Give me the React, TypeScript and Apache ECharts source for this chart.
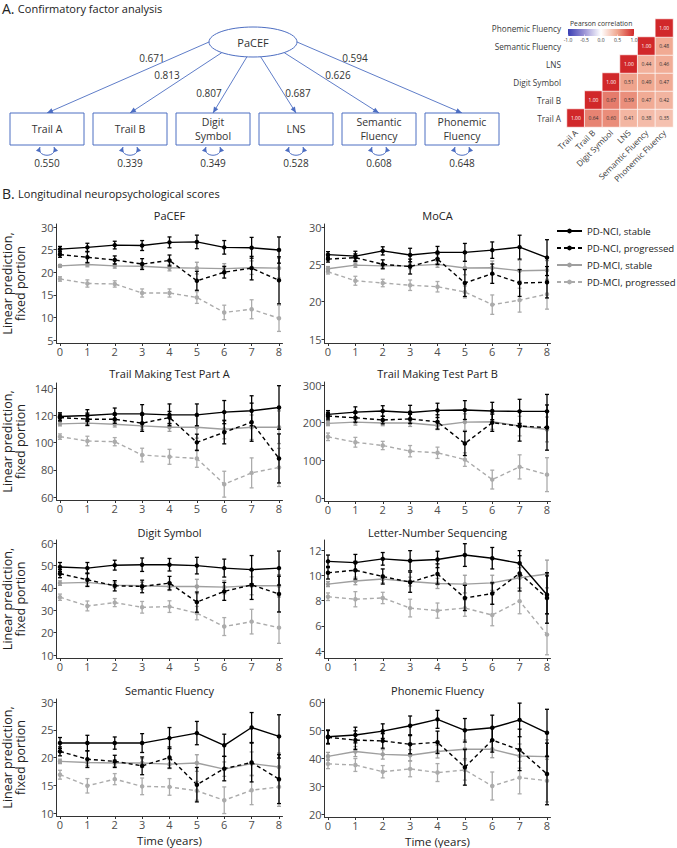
import React, { useEffect, useRef } from "react";
import * as echarts from "echarts";

// ---------------- DATA ----------------
const years = [0, 1, 2, 3, 4, 5, 6, 7, 8];
const groups = ["PD-NCI, stable", "PD-NCI, progressed", "PD-MCI, stable", "PD-MCI, progressed"];

// PaCEF
const pacefNciStable = [25.1, 25.5, 26.0, 25.9, 26.6, 26.7, 25.5, 25.4, 24.9];
const pacefNciStableErr = [0.6, 0.9, 0.85, 1.1, 1.2, 1.5, 1.5, 2.3, 2.9];
const pacefNciProg = [23.9, 23.3, 22.7, 21.8, 22.6, 18.1, 20.0, 20.9, 18.2];
const pacefNciProgErr = [0.6, 1.2, 0.9, 1.2, 1.2, 2.1, 1.3, 2.6, 5.2];
const pacefMciStable = [21.4, 21.7, 21.4, 21.3, 21.0, 20.9, 20.8, 21.0, 20.9];
const pacefMciStableErr = [0.3, 0.5, 0.5, 0.6, 0.7, 1.3, 1.1, 1.5, 2.2];
const pacefMciProg = [18.5, 17.5, 17.4, 15.4, 15.4, 14.4, 11.1, 11.8, 9.8];
const pacefMciProgErr = [0.5, 0.8, 0.7, 0.9, 0.9, 1.3, 1.6, 2.1, 2.9];

// MoCA
const mocaNciStable = [26.3, 26.1, 26.8, 26.25, 26.6, 26.6, 26.9, 27.3, 25.9];
const mocaNciStableErr = [0.4, 0.65, 0.55, 0.9, 0.8, 1.2, 1.1, 1.6, 2.4];
const mocaNciProg = [25.7, 25.9, 25.0, 24.7, 25.7, 22.5, 23.75, 22.5, 22.6];
const mocaNciProgErr = [0.4, 0.5, 0.6, 1.0, 0.7, 1.8, 1.3, 1.8, 2.1];
const mocaMciStable = [24.4, 24.9, 24.8, 24.8, 25.0, 24.5, 24.55, 24.15, 24.2];
const mocaMciStableErr = [0.3, 0.3, 0.3, 0.4, 0.4, 0.9, 0.9, 1.4, 1.3];
const mocaMciProg = [24.0, 22.8, 22.5, 22.2, 22.0, 21.3, 19.6, 20.2, 21.0];
const mocaMciProgErr = [0.3, 0.6, 0.5, 0.7, 0.7, 0.8, 1.3, 1.6, 2.0];

// Trail Making Test Part A
const trailANciStable = [119.1, 119.8, 121.0, 121.0, 120.3, 120.3, 122.3, 123.3, 125.7];
const trailANciStableErr = [2.7, 4.3, 4.3, 6.8, 8, 8, 8.5, 11, 16];
const trailANciProg = [118.3, 117.1, 117.1, 114.2, 118.3, 100.1, 107.5, 114.9, 88.3];
const trailANciProgErr = [2.5, 4.5, 3, 6, 4.5, 6, 8.5, 14, 18];
const trailAMciStable = [113.7, 114.2, 113.4, 112.2, 111.2, 111.2, 109.7, 111.2, 111.2];
const trailAMciStableErr = [1.5, 2, 2, 2.5, 3, 8, 7, 9, 12];
const trailAMciProg = [104.3, 101.1, 100.6, 90.8, 89.5, 88.3, 69.4, 77.7, 81.7];
const trailAMciProgErr = [2, 3.5, 3, 5, 5.5, 6.5, 9.5, 11, 14];

// Trail Making Test Part B
const trailBNciStable = [222, 228, 231, 227, 232.6, 233.5, 231, 230, 230];
const trailBNciStableErr = [10, 14, 14, 19, 19, 25, 23, 32, 45];
const trailBNciProg = [217.5, 213, 207, 210, 202, 144.7, 200, 191, 187];
const trailBNciProgErr = [10, 12, 10, 12, 19, 32, 23, 40, 60];
const trailBMciStable = [198, 201.5, 199, 199, 192.6, 201.5, 202.4, 191, 182];
const trailBMciStableErr = [6, 8, 7, 9, 11, 22, 20, 26, 33];
const trailBMciProg = [162.5, 148, 139.4, 124.3, 120, 102, 48.9, 82.6, 62];
const trailBMciProgErr = [10, 13, 11, 15, 15, 18, 25, 32, 45];

// Digit Symbol
const digitNciStable = [49.3, 48.8, 50.1, 50.3, 50.3, 49.9, 48.8, 48.1, 48.8];
const digitNciStableErr = [2, 2.5, 2.2, 3, 2.8, 3.7, 4, 6.3, 7.6];
const digitNciProg = [46.3, 43.6, 40.9, 40.6, 42.1, 33.6, 38.4, 41.3, 37.2];
const digitNciProgErr = [1.8, 3, 2.3, 2.8, 3, 4.5, 4, 6.5, 8];
const digitMciStable = [42.1, 42.4, 41.2, 40.9, 40.6, 40.6, 40.3, 40.9, 40.9];
const digitMciStableErr = [1, 1.5, 1.3, 1.6, 1.8, 3.2, 3, 4, 5];
const digitMciProg = [35.8, 31.9, 33.4, 31.3, 31.6, 28.7, 22.7, 24.9, 22.2];
const digitMciProgErr = [1.4, 2.2, 1.8, 2.6, 2.6, 3, 4, 5.5, 7];

// Letter-Number Sequencing
const lnsNciStable = [11.1, 11.0, 11.3, 11.15, 11.25, 11.6, 11.35, 10.95, 8.45];
const lnsNciStableErr = [0.5, 0.65, 0.5, 0.8, 0.65, 0.9, 0.85, 1.0, 1.5];
const lnsNciProg = [10.2, 10.4, 9.9, 9.45, 10.1, 8.2, 8.55, 10.15, 8.2];
const lnsNciProgErr = [0.5, 0.7, 0.6, 0.8, 0.8, 1.0, 0.85, 1.4, 2.0];
const lnsMciStable = [9.3, 9.55, 9.7, 9.5, 9.35, 9.3, 9.4, 9.8, 10.1];
const lnsMciStableErr = [0.2, 0.3, 0.3, 0.35, 0.4, 0.7, 0.6, 0.8, 1.1];
const lnsMciProg = [8.3, 8.1, 8.2, 7.4, 7.2, 7.4, 6.85, 7.95, 5.3];
const lnsMciProgErr = [0.3, 0.6, 0.45, 0.7, 0.6, 0.65, 0.85, 1.0, 1.6];

// Semantic Fluency
const semNciStable = [22.6, 22.6, 22.6, 22.6, 23.5, 24.4, 22.2, 25.4, 23.8];
const semNciStableErr = [1.0, 1.4, 1.1, 1.7, 1.9, 2.1, 2.0, 2.7, 3.9];
const semNciProg = [21.1, 19.7, 19.3, 18.5, 20.0, 15.1, 18.0, 19.1, 16.1];
const semNciProgErr = [0.8, 1.5, 1.1, 1.6, 1.9, 3.1, 2.2, 3.5, 4.4];
const semMciStable = [19.3, 19.1, 19.0, 19.0, 18.8, 19.0, 17.9, 18.9, 18.3];
const semMciStableErr = [0.4, 0.6, 0.6, 0.8, 0.8, 1.5, 1.3, 2.1, 2.5];
const semMciProg = [16.9, 14.9, 16.1, 14.8, 14.7, 14.0, 12.3, 14.1, 14.7];
const semMciProgErr = [0.8, 1.3, 1.0, 1.5, 1.5, 1.7, 2.4, 2.6, 3.5];

// Phonemic Fluency
const phoNciStable = [47.6, 48.2, 49.6, 51.5, 53.8, 49.9, 50.8, 53.6, 49.0];
const phoNciStableErr = [2.4, 2.8, 2.6, 3.5, 3.2, 4.2, 4.5, 6, 8.4];
const phoNciProg = [47.4, 46.4, 46.1, 44.9, 45.6, 36.7, 46.4, 42.9, 34.3];
const phoNciProgErr = [2.4, 3.3, 2.6, 3.4, 4, 6.4, 4.3, 7.4, 11];
const phoMciStable = [40.6, 42.3, 41.3, 41.0, 42.3, 43.1, 43.1, 40.7, 40.5];
const phoMciStableErr = [1.4, 1.8, 1.7, 2, 2.3, 3.3, 3, 4.3, 6];
const phoMciProg = [37.9, 37.5, 35.1, 36.1, 34.8, 35.7, 30.0, 33.0, 31.9];
const phoMciProgErr = [1.7, 2.3, 2.2, 2.8, 3.2, 3.6, 5, 5.8, 7.6];

const panelTitles = [
  "PaCEF", "MoCA", "Trail Making Test Part A", "Trail Making Test Part B",
  "Digit Symbol", "Letter-Number Sequencing", "Semantic Fluency", "Phonemic Fluency",
];
const panelTicks = [
  [5, 10, 15, 20, 25, 30], [15, 20, 25, 30], [60, 80, 100, 120, 140], [0, 100, 200, 300],
  [10, 20, 30, 40, 50, 60], [4, 6, 8, 10, 12], [10, 15, 20, 25, 30], [20, 30, 40, 50, 60],
];
const panelMeans = [
  [pacefNciStable, pacefNciProg, pacefMciStable, pacefMciProg],
  [mocaNciStable, mocaNciProg, mocaMciStable, mocaMciProg],
  [trailANciStable, trailANciProg, trailAMciStable, trailAMciProg],
  [trailBNciStable, trailBNciProg, trailBMciStable, trailBMciProg],
  [digitNciStable, digitNciProg, digitMciStable, digitMciProg],
  [lnsNciStable, lnsNciProg, lnsMciStable, lnsMciProg],
  [semNciStable, semNciProg, semMciStable, semMciProg],
  [phoNciStable, phoNciProg, phoMciStable, phoMciProg],
];
const panelErrs = [
  [pacefNciStableErr, pacefNciProgErr, pacefMciStableErr, pacefMciProgErr],
  [mocaNciStableErr, mocaNciProgErr, mocaMciStableErr, mocaMciProgErr],
  [trailANciStableErr, trailANciProgErr, trailAMciStableErr, trailAMciProgErr],
  [trailBNciStableErr, trailBNciProgErr, trailBMciStableErr, trailBMciProgErr],
  [digitNciStableErr, digitNciProgErr, digitMciStableErr, digitMciProgErr],
  [lnsNciStableErr, lnsNciProgErr, lnsMciStableErr, lnsMciProgErr],
  [semNciStableErr, semNciProgErr, semMciStableErr, semMciProgErr],
  [phoNciStableErr, phoNciProgErr, phoMciStableErr, phoMciProgErr],
];

// CFA
const cfaIndicators = ["Trail A", "Trail B", "Digit\nSymbol", "LNS", "Semantic\nFluency", "Phonemic\nFluency"];
const cfaLoadings = [0.671, 0.813, 0.807, 0.687, 0.626, 0.594];
const cfaResiduals = [0.55, 0.339, 0.349, 0.528, 0.608, 0.648];

// Correlation matrix
const corrVars = ["Trail A", "Trail B", "Digit Symbol", "LNS", "Semantic Fluency", "Phonemic Fluency"];
const corrTrailA = [1.0, 0.64, 0.6, 0.41, 0.38, 0.35];
const corrTrailB = [null, 1.0, 0.67, 0.59, 0.47, 0.42];
const corrDigit = [null, null, 1.0, 0.51, 0.49, 0.47];
const corrLns = [null, null, null, 1.0, 0.44, 0.46];
const corrSemantic = [null, null, null, null, 1.0, 0.48];
const corrPhonemic = [null, null, null, null, null, 1.0];
const corrRows = [corrTrailA, corrTrailB, corrDigit, corrLns, corrSemantic, corrPhonemic];
const corrBarTicks = [-1, -0.5, 0, 0.5, 1];

// ---------------- STYLE / LAYOUT ----------------
const FONT = "'Open Sans', sans-serif";
const BLUE = "#4d6ec2";
const corrColors = ["#3a3fb4", "#9d95d6", "#ffffff", "#f0a68e", "#d1282a"];
const groupColor = ["#000000", "#000000", "#9f9f9f", "#ababab"];
const groupDash: any[] = ["solid", [4, 3], "solid", [4, 3]];
const groupZ = [5, 4, 3, 2];

const colX0 = [60, 328];
const xSpan = 219;
const xPad = 3.5;
// [topTickPx, bottomTickPx, padTop, padBottom]
const panelBox = [
  [227, 340, 3, 3], [227, 339, 3, 4], [388, 497, 5, 3], [385, 498, 3, 3],
  [543, 655, 3, 3], [550, 651, 10, 7], [702, 813, 3, 3], [702, 814, 3, 3],
];
const rowTitleY = [215.5, 373, 532, 690];

const cfaEllipse = { cx: 253, cy: 42, rx: 44, ry: 15 };
const cfaBox = { left0: 10, step: 83, w: 74, top: 113, h: 32 };
const cfaStartAngles = [180, 135, 98, 80, 45, 0];
const cfaLabelPos = [[152, 58], [167, 75], [209, 93], [298, 93], [338, 75], [355, 58]];

const heatGrid = { left: 567, top: 19, width: 106, height: 108 };
const corrBar = { x: 568, y: 29, w: 66, h: 7 };

function arrowHead(tx: number, ty: number, fx: number, fy: number, len = 6, half = 2.5) {
  const dx = tx - fx, dy = ty - fy;
  const L = Math.hypot(dx, dy) || 1;
  const ux = dx / L, uy = dy / L;
  const bx = tx - ux * len, by = ty - uy * len;
  return {
    type: "polygon",
    shape: { points: [[tx, ty], [bx - uy * half, by + ux * half], [bx + uy * half, by - ux * half]] },
    style: { fill: BLUE },
    z: 12,
  };
}

function buildOption() {
  const grids: any[] = [];
  const xAxes: any[] = [];
  const yAxes: any[] = [];
  const series: any[] = [];
  const graphics: any[] = [];

  // ---- heatmap (series 0) ----
  grids.push({ ...heatGrid, outerBoundsMode: "none" });
  xAxes.push({
    type: "category", gridIndex: 0, data: corrVars, position: "bottom",
    axisLine: { show: false }, axisTick: { show: false }, splitLine: { show: false },
    axisLabel: { rotate: 45, fontSize: 8.2, color: "#3a3a3a", margin: 4, interval: 0, fontFamily: FONT },
  });
  yAxes.push({
    type: "category", gridIndex: 0, data: corrVars,
    axisLine: { show: false }, axisTick: { show: false }, splitLine: { show: false },
    axisLabel: { fontSize: 8.2, color: "#3a3a3a", margin: 6, interval: 0, fontFamily: FONT },
  });
  const heatData: any[] = [];
  corrRows.forEach((row, i) => {
    row.forEach((v, j) => {
      if (v === null) return;
      heatData.push({
        value: [j, i, v],
        label: { color: v > 0.8 ? "#ffffff" : "#333333" },
      });
    });
  });
  series.push({
    type: "heatmap", xAxisIndex: 0, yAxisIndex: 0, data: heatData,
    itemStyle: { borderColor: "#ffffff", borderWidth: 0.7 },
    label: { show: true, fontSize: 5, fontFamily: FONT, formatter: (p: any) => p.value[2].toFixed(2) },
    emphasis: { disabled: true },
  });

  // ---- panels ----
  const xs = xSpan / 8;
  const xMin = -xPad / xs;
  const xMax = 8 + xPad / xs;
  panelTitles.forEach((title, k) => {
    const col = k % 2;
    const row = Math.floor(k / 2);
    const gi = k + 1;
    const [tp, bp, pt, pb] = panelBox[k];
    const ticks = panelTicks[k];
    const lo = ticks[0], hi = ticks[ticks.length - 1];
    const s = (bp - tp) / (hi - lo);
    grids.push({
      left: colX0[col] - xPad, top: tp - pt, width: xSpan + 2 * xPad,
      height: bp + pb - (tp - pt), outerBoundsMode: "none",
    });
    xAxes.push({
      type: "value", gridIndex: gi, min: xMin, max: xMax,
      axisLine: { show: true, onZero: false, lineStyle: { color: "#333", width: 1 } },
      axisTick: { show: true, length: 3, customValues: years, lineStyle: { color: "#333" } },
      axisLabel: { customValues: years, fontSize: 11, color: "#4d4d4d", margin: 3, fontFamily: FONT },
      splitLine: { show: false },
      name: row === 3 ? "Time (years)" : "",
      nameLocation: "middle", nameGap: 18,
      nameTextStyle: { fontSize: 11.5, color: "#222", fontFamily: FONT },
    });
    yAxes.push({
      type: "value", gridIndex: gi, min: lo - pb / s, max: hi + pt / s,
      axisLine: { show: true, onZero: false, lineStyle: { color: "#333", width: 1 } },
      axisTick: { show: true, length: 3, customValues: ticks, lineStyle: { color: "#333" } },
      axisLabel: { customValues: ticks, fontSize: 11, color: "#4d4d4d", margin: 3, fontFamily: FONT },
      splitLine: { show: false },
      name: col === 0 ? "Linear prediction,\nfixed portion" : "",
      nameLocation: "middle", nameGap: 30, nameRotate: 90,
      nameTextStyle: { fontSize: 12.5, lineHeight: 13, color: "#222", fontFamily: FONT },
    });
    graphics.push({
      type: "text",
      x: colX0[col] + xSpan / 2,
      y: rowTitleY[row],
      style: { text: title, fontSize: 11, fontFamily: FONT, fill: "#222", align: "center", verticalAlign: "middle" },
    });

    const order = [3, 2, 1, 0];
    order.forEach((g) => {
      const m = panelMeans[k][g];
      const e = panelErrs[k][g];
      const color = groupColor[g];
      series.push({
        type: "custom", name: groups[g] + " CI", xAxisIndex: gi, yAxisIndex: gi, z: groupZ[g],
        silent: true,
        data: years.map((x, i) => [x, m[i] - e[i], m[i] + e[i]]),
        encode: { x: 0, y: [1, 2] },
        renderItem: (params: any, api: any) => {
          const x = api.value(0);
          const a = api.coord([x, api.value(1)]);
          const b = api.coord([x, api.value(2)]);
          const cap = 2;
          const st = { stroke: color, lineWidth: 1.3 };
          return {
            type: "group",
            children: [
              { type: "line", shape: { x1: a[0], y1: a[1], x2: b[0], y2: b[1] }, style: st },
              { type: "line", shape: { x1: a[0] - cap, y1: a[1], x2: a[0] + cap, y2: a[1] }, style: st },
              { type: "line", shape: { x1: b[0] - cap, y1: b[1], x2: b[0] + cap, y2: b[1] }, style: st },
            ],
          };
        },
      });
      series.push({
        type: "line", name: groups[g], xAxisIndex: gi, yAxisIndex: gi, z: groupZ[g],
        data: years.map((x, i) => [x, m[i]]),
        symbol: "circle", symbolSize: 4.5, showSymbol: true,
        lineStyle: { color, width: 1.4, type: groupDash[g] },
        itemStyle: { color },
        emphasis: { disabled: true },
      });
    });
  });

  // ---- headers ----
  graphics.push({
    type: "text", x: 2, y: 8.5,
    style: {
      text: "{a|A.} {b|Confirmatory factor analysis}",
      verticalAlign: "middle", fill: "#222",
      rich: { a: { fontSize: 14, fontFamily: FONT, fill: "#222" }, b: { fontSize: 11, fontFamily: FONT, fill: "#222" } },
    },
  });
  graphics.push({
    type: "text", x: 2, y: 193.5,
    style: {
      text: "{a|B.} {b|Longitudinal neuropsychological scores}",
      verticalAlign: "middle", fill: "#222",
      rich: { a: { fontSize: 14, fontFamily: FONT, fill: "#222" }, b: { fontSize: 11, fontFamily: FONT, fill: "#222" } },
    },
  });

  // ---- CFA diagram ----
  const E = cfaEllipse;
  graphics.push({
    type: "ellipse", shape: { cx: E.cx, cy: E.cy, rx: E.rx, ry: E.ry },
    style: { fill: "#fff", stroke: BLUE, lineWidth: 1 }, z: 10,
  });
  graphics.push({
    type: "text", x: E.cx, y: E.cy, z: 11,
    style: { text: "PaCEF", fontSize: 11, fontFamily: FONT, fill: "#333", align: "center", verticalAlign: "middle" },
  });
  cfaIndicators.forEach((name, i) => {
    const bx = cfaBox.left0 + i * cfaBox.step;
    const cx = bx + cfaBox.w / 2;
    const a = (cfaStartAngles[i] * Math.PI) / 180;
    const sx = E.cx + E.rx * Math.cos(a);
    const sy = E.cy + E.ry * Math.sin(a);
    const ex = cx, ey = cfaBox.top;
    graphics.push({
      type: "line", shape: { x1: sx, y1: sy, x2: ex, y2: ey },
      style: { stroke: BLUE, lineWidth: 0.9 }, z: 9,
    });
    graphics.push(arrowHead(ex, ey, sx, sy));
    graphics.push({
      type: "rect", shape: { x: bx, y: cfaBox.top, width: cfaBox.w, height: cfaBox.h },
      style: { fill: "#fff", stroke: BLUE, lineWidth: 1 }, z: 10,
    });
    graphics.push({
      type: "text", x: cx, y: cfaBox.top + cfaBox.h / 2, z: 11,
      style: { text: name, fontSize: 10.5, lineHeight: 14, fontFamily: FONT, fill: "#333", align: "center", verticalAlign: "middle" },
    });
    graphics.push({
      type: "text", x: cfaLabelPos[i][0], y: cfaLabelPos[i][1], z: 11,
      style: { text: cfaLoadings[i].toFixed(3), fontSize: 10, fontFamily: FONT, fill: "#333", align: "center", verticalAlign: "middle" },
    });
    // residual double-headed arc
    const yb = cfaBox.top + cfaBox.h + 2;
    const x1 = cx - 7, x2 = cx + 7;
    const cp1 = [cx - 11, yb + 11], cp2 = [cx + 11, yb + 11];
    graphics.push({
      type: "bezierCurve",
      shape: { x1, y1: yb, x2, y2: yb, cpx1: cp1[0], cpy1: cp1[1], cpx2: cp2[0], cpy2: cp2[1] },
      style: { stroke: BLUE, lineWidth: 1, fill: null }, z: 11,
    });
    graphics.push(arrowHead(x1, yb, cp1[0], cp1[1], 5, 2.5));
    graphics.push(arrowHead(x2, yb, cp2[0], cp2[1], 5, 2.5));
    graphics.push({
      type: "text", x: cx, y: 163, z: 11,
      style: { text: cfaResiduals[i].toFixed(3), fontSize: 10, fontFamily: FONT, fill: "#333", align: "center", verticalAlign: "middle" },
    });
  });

  // ---- correlation colour bar ----
  const stops = corrColors.map((c, i) => ({ offset: i / (corrColors.length - 1), color: c }));
  graphics.push({
    type: "rect", shape: { x: corrBar.x, y: corrBar.y, width: corrBar.w, height: corrBar.h },
    style: { fill: { type: "linear", x: 0, y: 0, x2: 1, y2: 0, colorStops: stops } }, z: 20,
  });
  graphics.push({
    type: "text", x: corrBar.x + 2, y: corrBar.y - 6, z: 20,
    style: { text: "Pearson correlation", fontSize: 6.8, fontFamily: FONT, fill: "#333", verticalAlign: "middle" },
  });
  corrBarTicks.forEach((v) => {
    const x = corrBar.x + ((v + 1) / 2) * corrBar.w;
    graphics.push({
      type: "line", shape: { x1: x, y1: corrBar.y + corrBar.h - 1.5, x2: x, y2: corrBar.y + corrBar.h },
      style: { stroke: "#fff", lineWidth: 0.6 }, z: 21,
    });
    graphics.push({
      type: "text", x, y: corrBar.y + corrBar.h + 4, z: 20,
      style: { text: v.toFixed(1), fontSize: 5, fontFamily: FONT, fill: "#333", align: "center", verticalAlign: "middle" },
    });
  });

  return {
    animation: false,
    textStyle: { fontFamily: FONT },
    grid: grids,
    xAxis: xAxes,
    yAxis: yAxes,
    visualMap: {
      show: false, type: "continuous", min: -1, max: 1, seriesIndex: 0, dimension: 2,
      inRange: { color: corrColors },
    },
    legend: {
      data: groups, orient: "vertical", left: 556, top: 226, padding: 0,
      itemWidth: 25, itemHeight: 6, itemGap: 7,
      textStyle: { fontSize: 9.6, color: "#222", fontFamily: FONT },
    },
    series,
    graphic: { elements: graphics },
  };
}

export default function App() {
  const ref = useRef<HTMLDivElement>(null);
  useEffect(() => {
    document.body.style.margin = "0";
    if (!ref.current) return;
    const chart = echarts.init(ref.current, undefined, { renderer: "svg" });
    chart.setOption(buildOption() as any);
    return () => chart.dispose();
  }, []);
  return <div ref={ref} style={{ width: 677, height: 848, background: "#fff" }} />;
}
